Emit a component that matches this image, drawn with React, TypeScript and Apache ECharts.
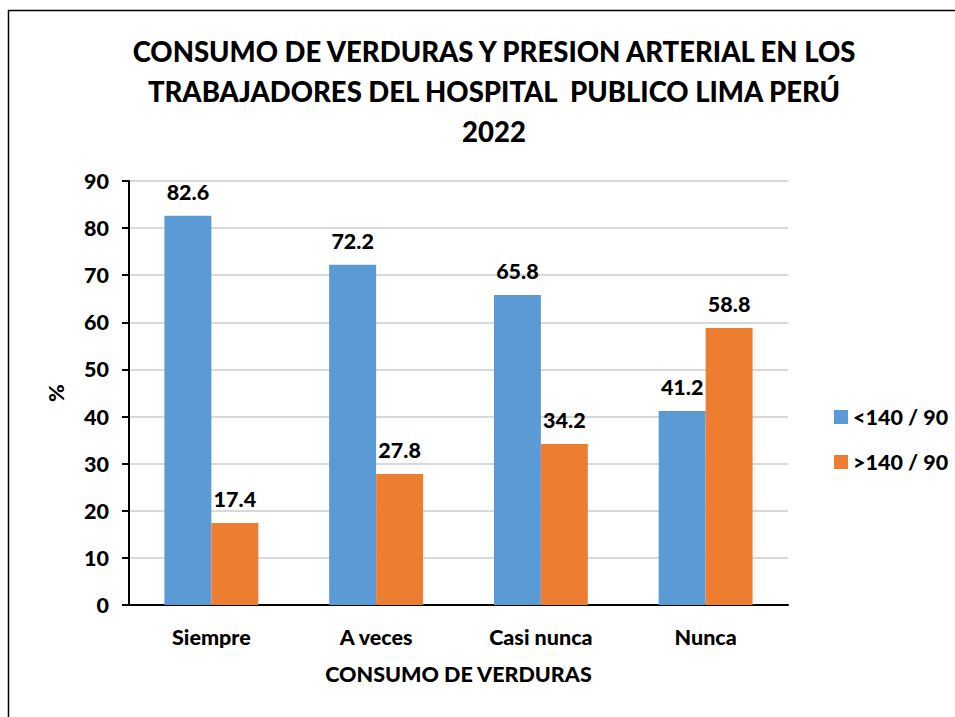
import React, { useEffect, useRef } from "react";
import * as echarts from "echarts";

const categories = ["Siempre", "A veces", "Casi nunca", "Nunca"];
const seriesNames = ["<140 / 90", ">140 / 90"];
const lowValues = [82.6, 72.2, 65.8, 41.2];
const highValues = [17.4, 27.8, 34.2, 58.8];
const colors = ["#5B9BD5", "#ED7D31"];
const titleText = "CONSUMO DE VERDURAS Y PRESION ARTERIAL EN LOS\nTRABAJADORES DEL HOSPITAL  PUBLICO LIMA PERÚ\n2022";
const FONT = "Lato, 'Open Sans', sans-serif";

export default function App() {
  const ref = useRef<HTMLDivElement>(null);
  useEffect(() => {
    const chart = echarts.init(ref.current!, null, { renderer: "svg" });
    const label = {
      show: true,
      position: "top",
      distance: 13,
      fontFamily: FONT,
      fontWeight: 900,
      fontSize: 21.5,
      color: "#000",
    };
    const txt = { fontFamily: FONT, fontWeight: 900, fontSize: 21.5, color: "#000" };
    chart.setOption({
      animation: false,
      backgroundColor: "#fff",
      textStyle: { fontFamily: FONT },
      title: {
        text: titleText,
        left: 489,
        top: 26,
        textAlign: "center",
        textStyle: { fontFamily: FONT, fontWeight: 900, fontSize: 27.5, lineHeight: 40, color: "#000" },
      },
      graphic: [
        {
          type: "rect",
          shape: { x: 8.5, y: 10.5, width: 1000, height: 1000 },
          style: { fill: "none", stroke: "#000", lineWidth: 1.5 },
          silent: true,
        },
      ],
      legend: {
        orient: "vertical",
        left: 829,
        top: 401,
        itemWidth: 14,
        itemHeight: 14,
        itemGap: 23,
        icon: "rect",
        textStyle: { ...txt, padding: [0, 0, 0, 0] },
        data: seriesNames,
      },
      grid: { left: 129, right: 167, top: 181, bottom: 112, containLabel: false },
      xAxis: {
        type: "category",
        data: categories,
        name: "CONSUMO DE VERDURAS",
        nameLocation: "middle",
        nameGap: 58,
        nameTextStyle: txt,
        axisLine: { lineStyle: { color: "#000", width: 2 } },
        axisTick: { show: false },
        axisLabel: { ...txt, margin: 21 },
      },
      yAxis: {
        type: "value",
        min: 0,
        max: 90,
        interval: 10,
        name: "%",
        nameLocation: "middle",
        nameGap: 62,
        nameRotate: 90,
        nameTextStyle: txt,
        axisLine: { show: true, lineStyle: { color: "#000", width: 2 } },
        axisTick: { show: true, length: 7, lineStyle: { color: "#000", width: 2 } },
        axisLabel: { ...txt, margin: 20 },
        splitLine: { lineStyle: { color: "#D9D9D9", width: 2 } },
      },
      series: [
        {
          name: seriesNames[0],
          type: "bar",
          data: lowValues,
          itemStyle: { color: colors[0] },
          barGap: "0%",
          barCategoryGap: "43%",
          label,
        },
        {
          name: seriesNames[1],
          type: "bar",
          data: highValues,
          itemStyle: { color: colors[1] },
          barGap: "0%",
          barCategoryGap: "43%",
          label,
        },
      ],
    });
    return () => chart.dispose();
  }, []);
  return <div ref={ref} style={{ position: "fixed", left: 0, top: 0, width: 955, height: 717 }} />;
}
